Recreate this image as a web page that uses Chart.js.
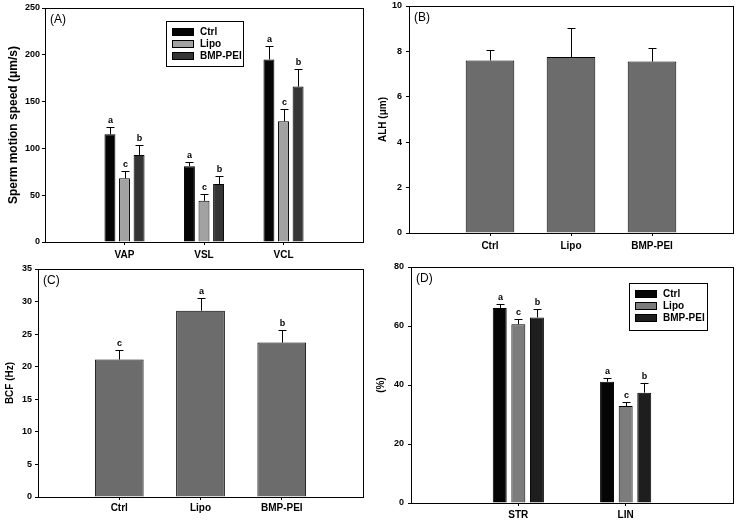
<!DOCTYPE html>
<html>
<head>
<meta charset="utf-8">
<script src="https://cdn.jsdelivr.net/npm/chart.js@4.4.1/dist/chart.umd.min.js"></script>
<style>
  html, body { margin: 0; padding: 0; background: #fff; }
  .panel { position: absolute; }
</style>
</head>
<body>
<div class="panel" style="left:0;top:0"><canvas id="chartA" width="368" height="260"></canvas></div>
<div class="panel" style="left:368px;top:0"><canvas id="chartB" width="368" height="260"></canvas></div>
<div class="panel" style="left:0;top:260px"><canvas id="chartC" width="368" height="261"></canvas></div>
<div class="panel" style="left:368px;top:260px"><canvas id="chartD" width="368" height="261"></canvas></div>
<script>
// groups
const groups = ['Ctrl', 'Lipo', 'BMP-PEI'];

// (A) sperm motion speed
const speedCats = ['VAP', 'VSL', 'VCL'];
const speedCtrl = [115, 81, 195];
const speedCtrlErr = [8, 5, 14];
const speedLipo = [68, 44, 129];
const speedLipoErr = [8, 7, 13];
const speedBmp = [93, 62, 166];
const speedBmpErr = [11, 9, 19];
const speedTicks = [0, 50, 100, 150, 200, 250];

// (B) ALH
const alhVals = [7.6, 7.75, 7.55];
const alhErr = [0.45, 1.27, 0.6];
const alhTicks = [0, 2, 4, 6, 8, 10];

// (C) BCF
const bcfVals = [21.1, 28.6, 23.7];
const bcfErr = [1.45, 1.9, 1.95];
const bcfLetters = ['c', 'a', 'b'];
const bcfTicks = [0, 5, 10, 15, 20, 25, 30, 35];

// (D) STR / LIN
const pctCats = ['STR', 'LIN'];
const pctCtrl = [66.1, 41.1];
const pctCtrlErr = [1.2, 1.3];
const pctLipo = [60.6, 32.9];
const pctLipoErr = [1.9, 1.5];
const pctBmp = [62.9, 37.4];
const pctBmpErr = [3.0, 3.4];
const pctTicks = [0, 20, 40, 60, 80];

const FONT = '"Liberation Sans", Arial, sans-serif';

function pad(arr, fill) { return [fill].concat(arr, [fill]); }

const decor = {
  id: 'decor',
  afterDatasetsDraw(chart, args, opts) {
    const ctx = chart.ctx, y = chart.scales.y;
    chart.data.datasets.forEach((ds, i) => {
      chart.getDatasetMeta(i).data.forEach((bar, j) => {
        const v = ds.data[j];
        if (v == null) return;
        const top = Math.round(y.getPixelForValue(v + ds.err[j])) + 0.5;
        const x = Math.round(bar.x) + 0.5;
        ctx.save();
        ctx.strokeStyle = '#000';
        ctx.lineWidth = 1;
        ctx.beginPath();
        ctx.moveTo(x, bar.y);
        ctx.lineTo(x, top);
        ctx.moveTo(x - 4, top);
        ctx.lineTo(x + 4, top);
        ctx.stroke();
        if (ds.letters && ds.letters[j]) {
          ctx.fillStyle = '#000';
          ctx.font = 'bold 9px ' + FONT;
          ctx.textAlign = 'center';
          ctx.textBaseline = 'bottom';
          ctx.fillText(ds.letters[j], x, top - 2);
        }
        ctx.restore();
      });
    });
  },
  afterDraw(chart, args, opts) {
    const ctx = chart.ctx, a = chart.chartArea;
    ctx.save();
    ctx.strokeStyle = '#000';
    ctx.lineWidth = 1;
    ctx.strokeRect(Math.round(a.left) + 0.5, Math.round(a.top) + 0.5,
      Math.round(a.right - a.left), Math.round(a.bottom - a.top));
    ctx.fillStyle = '#000';
    ctx.font = '12px ' + FONT;
    ctx.textAlign = 'left';
    ctx.textBaseline = 'middle';
    ctx.fillText(opts.tag, a.left + 5, a.top + 12);
    if (opts.legend) {
      const L = opts.legend;
      ctx.fillStyle = '#fff';
      ctx.fillRect(L.x, L.y, L.w, L.h);
      ctx.strokeRect(L.x + 0.5, L.y + 0.5, L.w, L.h);
      ctx.font = 'bold 10px ' + FONT;
      chart.data.datasets.forEach((ds, i) => {
        const cy = L.y + L.first + i * L.row;
        ctx.fillStyle = ds.backgroundColor;
        ctx.fillRect(L.x + 6, cy - 3.5, 21, 7);
        ctx.strokeRect(L.x + 6.5, cy - 3.5, 21, 7);
        ctx.fillStyle = '#000';
        ctx.fillText(ds.label, L.x + 34, cy + 0.5);
      });
    }
    ctx.restore();
  }
};

function makeChart(id, cfg) {
  const canvas = document.getElementById(id);
  const W = canvas.width, H = canvas.height, area = cfg.area;
  new Chart(canvas, {
    type: 'bar',
    data: {
      labels: pad(cfg.labels, ''),
      datasets: cfg.sets.map(s => ({
        label: s.label,
        data: pad(s.values, null),
        err: pad(s.err, 0),
        letters: s.letters ? pad(s.letters, '') : null,
        backgroundColor: s.color,
        borderColor: '#000',
        borderWidth: 1,
        categoryPercentage: cfg.catPct,
        barPercentage: cfg.barPct
      }))
    },
    options: {
      responsive: false,
      animation: false,
      layout: { padding: { left: 0, top: area.t, right: W - area.r, bottom: 0 } },
      scales: {
        x: {
          offset: false,
          grid: {
            offset: false, drawOnChartArea: false, tickLength: 3,
            color: c => (c.tick && c.tick.label === '') ? 'rgba(0,0,0,0)' : '#000'
          },
          border: { display: false },
          ticks: { color: '#000', font: { family: FONT, size: 10, weight: 'bold' }, padding: cfg.xPad, maxRotation: 0, autoSkip: false },
          afterFit: s => { s.height = H - area.b; s.paddingLeft = 0; s.paddingRight = 0; }
        },
        y: {
          min: 0,
          max: cfg.ticks[cfg.ticks.length - 1],
          afterBuildTicks: s => { s.ticks = cfg.ticks.map(v => ({ value: v })); },
          grid: { drawOnChartArea: false, tickLength: 3, color: '#000' },
          border: { display: false },
          ticks: { color: '#000', font: { family: FONT, size: 9, weight: 'bold' }, padding: cfg.yPad },
          title: { display: true, text: cfg.yTitle, color: '#000', font: { family: FONT, size: cfg.titleSize, weight: 'bold' }, padding: { top: cfg.titlePad, bottom: 0 } },
          afterFit: s => { s.width = area.l; s.paddingTop = 0; s.paddingBottom = 0; }
        }
      },
      plugins: {
        legend: { display: false },
        tooltip: { enabled: false },
        decor: { tag: cfg.tag, legend: cfg.legend }
      }
    },
    plugins: [decor]
  });
}

makeChart('chartA', {
  tag: '(A)', labels: speedCats, ticks: speedTicks,
  yTitle: 'Sperm motion speed (\u03bcm/s)', titleSize: 12, titlePad: 6,
  area: { l: 45, t: 8, r: 363, b: 242 }, xPad: 4, yPad: 2, catPct: 0.55, barPct: 0.75,
  legend: { x: 166, y: 21, w: 77, h: 45, first: 11, row: 12 },
  sets: [
    { label: groups[0], values: speedCtrl, err: speedCtrlErr, letters: ['a', 'a', 'a'], color: '#050505' },
    { label: groups[1], values: speedLipo, err: speedLipoErr, letters: ['c', 'c', 'c'], color: '#a2a2a2' },
    { label: groups[2], values: speedBmp, err: speedBmpErr, letters: ['b', 'b', 'b'], color: '#353535' }
  ]
});

makeChart('chartB', {
  tag: '(B)', labels: groups, ticks: alhTicks,
  yTitle: 'ALH (\u03bcm)', titleSize: 10, titlePad: 9,
  area: { l: 41, t: 6, r: 365, b: 233 }, xPad: 4, yPad: 4, catPct: 0.6, barPct: 1,
  sets: [{ label: 'ALH', values: alhVals, err: alhErr, color: '#6c6c6c' }]
});

makeChart('chartC', {
  tag: '(C)', labels: groups, ticks: bcfTicks,
  yTitle: 'BCF (Hz)', titleSize: 10, titlePad: 4,
  area: { l: 38, t: 9, r: 363, b: 237 }, xPad: 2, yPad: 3, catPct: 0.6, barPct: 1,
  sets: [{ label: 'BCF', values: bcfVals, err: bcfErr, letters: bcfLetters, color: '#6c6c6c' }]
});

makeChart('chartD', {
  tag: '(D)', labels: pctCats, ticks: pctTicks,
  yTitle: '(%)', titleSize: 10, titlePad: 7,
  area: { l: 43, t: 7, r: 365, b: 243 }, xPad: 3, yPad: 4, catPct: 0.52, barPct: 0.75,
  legend: { x: 261, y: 23, w: 78, h: 47, first: 11, row: 12 },
  sets: [
    { label: groups[0], values: pctCtrl, err: pctCtrlErr, letters: ['a', 'a'], color: '#050505' },
    { label: groups[1], values: pctLipo, err: pctLipoErr, letters: ['c', 'c'], color: '#7c7c7c' },
    { label: groups[2], values: pctBmp, err: pctBmpErr, letters: ['b', 'b'], color: '#1e1e1e' }
  ]
});
</script>
</body>
</html>
